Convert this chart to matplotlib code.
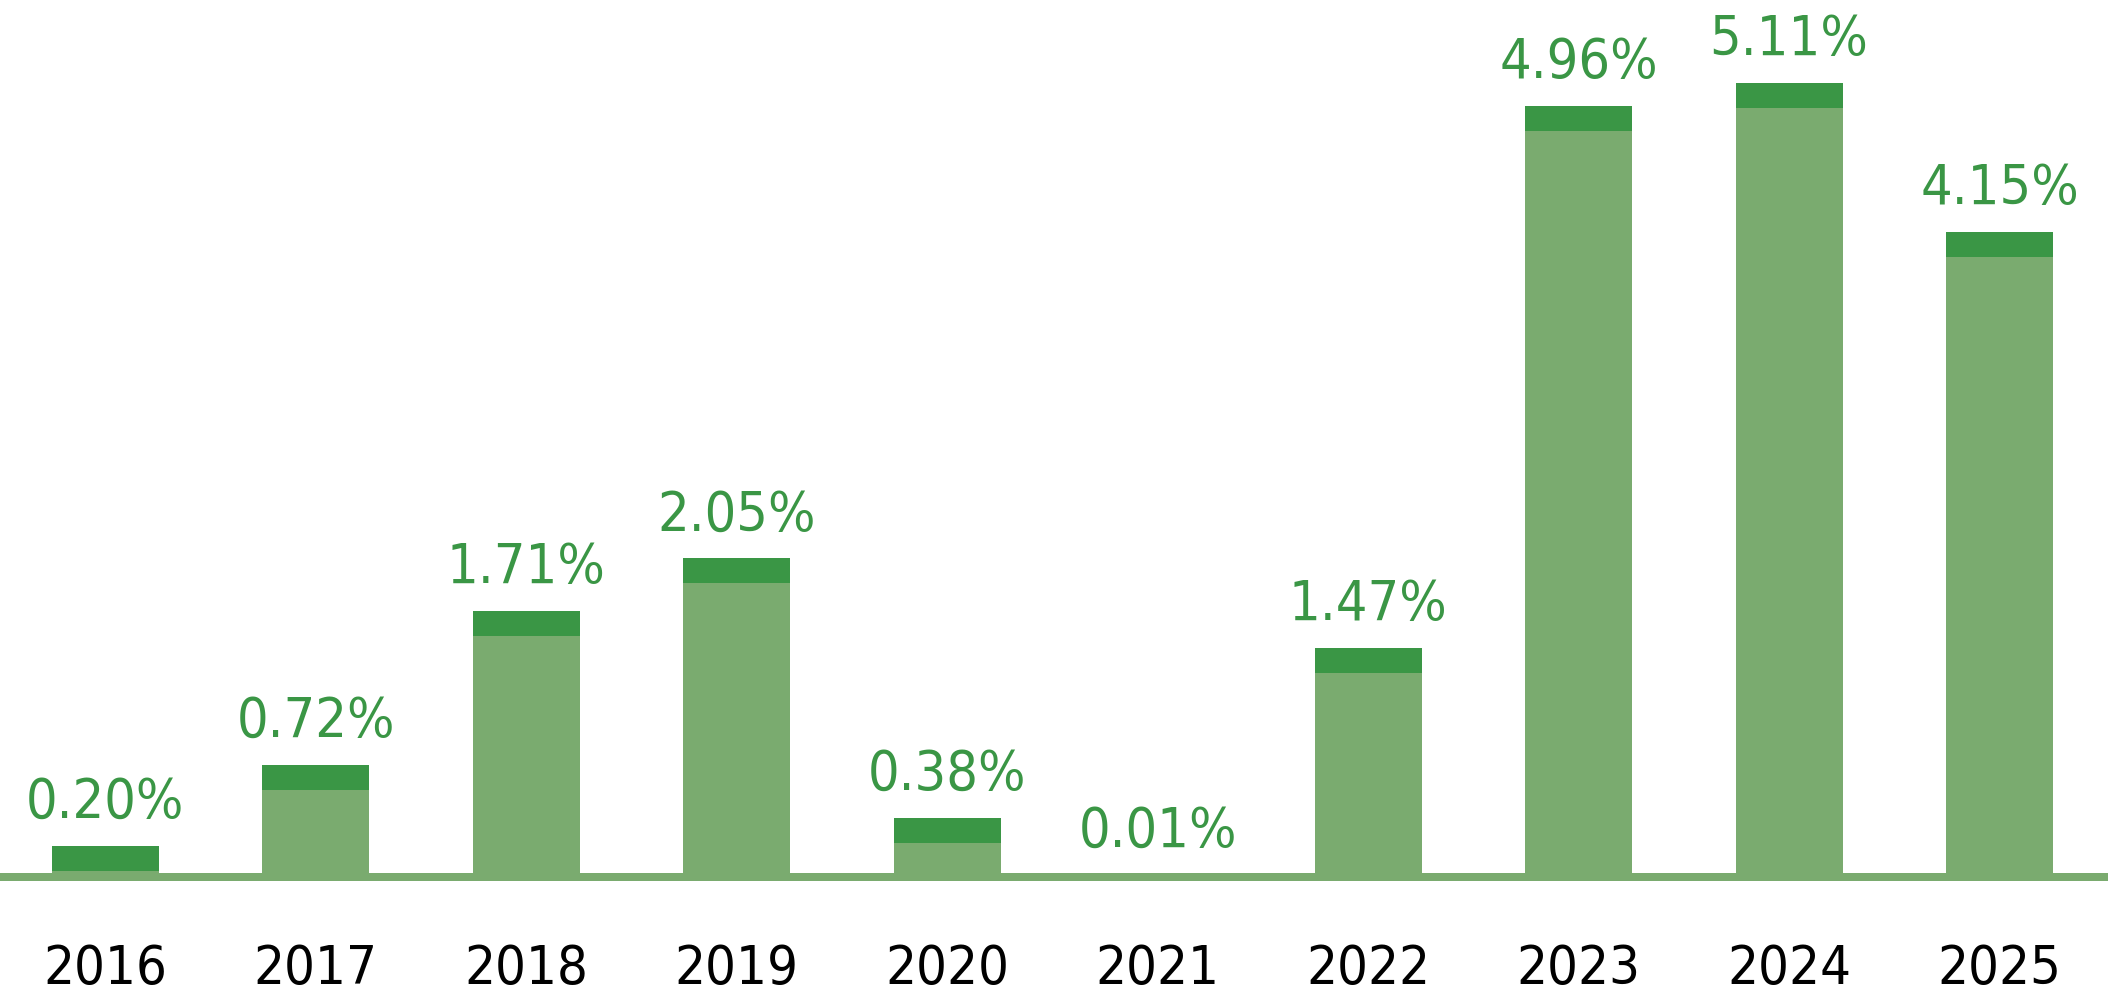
import matplotlib
matplotlib.use('Agg')
import matplotlib.pyplot as plt
import matplotlib.transforms as mtrans

# data
years = ['2016', '2017', '2018', '2019', '2020', '2021', '2022', '2023', '2024', '2025']
values = [0.20, 0.72, 1.71, 2.05, 0.38, 0.01, 1.47, 4.96, 5.11, 4.15]
labels = ['0.20%', '0.72%', '1.71%', '2.05%', '0.38%', '0.01%', '1.47%', '4.96%', '5.11%', '4.15%']

LIGHT = '#7aab6f'
DARK = '#3a9645'
FONT = ['DejaVu Sans']

W, H = 2108, 992
PX_PER_UNIT = 155.3     # pixels per 1 %
BASE_PX = 115.3         # zero line height from bottom, pixels
CAP = 25 / PX_PER_UNIT  # dark top band

fig = plt.figure(figsize=(W / 100, H / 100), dpi=100)
ax = fig.add_axes([0, 0, 1, 1])
ax.set_xlim(-0.5, 9.515)
ax.set_ylim(-BASE_PX / PX_PER_UNIT, (H - BASE_PX) / PX_PER_UNIT)
ax.axis('off')

x = list(range(len(years)))
bw = 0.508

ax.bar(x, values, width=bw, color=LIGHT, lw=0, zorder=2)
cap_bottom = [max(v - CAP, 0) for v in values]
cap_height = [v - b for v, b in zip(values, cap_bottom)]
ax.bar(x, cap_height, bottom=cap_bottom, width=bw, color=DARK, lw=0, zorder=3)

# baseline strip, over the bar feet
ax.axhspan(-4 / PX_PER_UNIT, 4 / PX_PER_UNIT, color=LIGHT, lw=0, zorder=4)

for xi, v, lab in zip(x, values, labels):
    ax.annotate(lab, (xi, v), xytext=(0, 28), textcoords='offset pixels',
                ha='center', va='baseline', fontsize=40, color=DARK,
                family=FONT, fontstretch='condensed', zorder=5)

trans = mtrans.blended_transform_factory(ax.transData, ax.transAxes)
for xi, yr in zip(x, years):
    ax.text(xi, 8 / H, yr, transform=trans, ha='center', va='baseline',
            fontsize=39, color='black', family=FONT, fontstretch='condensed')

fig.savefig('out.png', dpi=100, facecolor='white')
